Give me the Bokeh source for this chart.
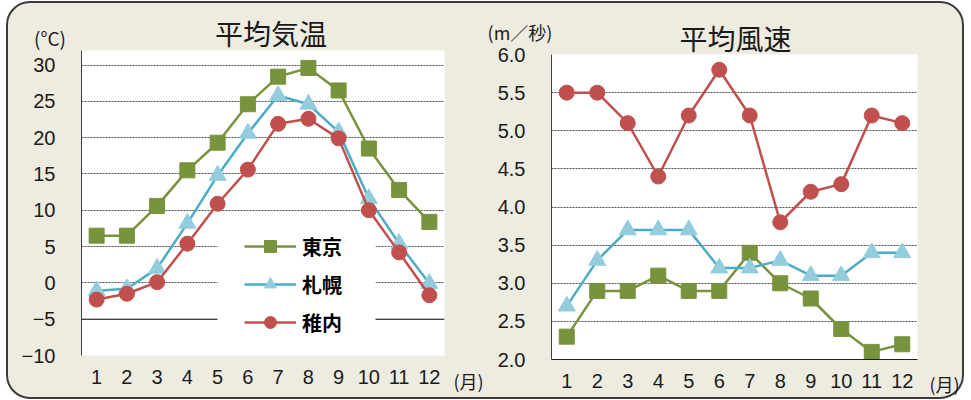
from bokeh.plotting import figure
from bokeh.models import (Range1d, FixedTicker, Span, BoxAnnotation, Legend,
                          LegendItem, NumeralTickFormatter)
from bokeh.layouts import row, column
from bokeh.core.properties import value
from bokeh.embed import file_html
from bokeh.resources import INLINE

# ---------------- data ----------------
months = [1, 2, 3, 4, 5, 6, 7, 8, 9, 10, 11, 12]
cities = ["東京", "札幌", "稚内"]

tokyo_temp = [6.5, 6.5, 10.6, 15.5, 19.3, 24.6, 28.4, 29.6, 26.5, 18.5, 12.8, 8.4]
sapporo_temp = [-1.1, -0.8, 2.0, 8.2, 14.8, 20.6, 25.8, 24.6, 20.8, 11.6, 5.4, -0.1]
wakkanai_temp = [-2.3, -1.5, 0.1, 5.4, 10.9, 15.6, 21.9, 22.6, 19.9, 10.0, 4.2, -1.7]

tokyo_wind = [2.3, 2.9, 2.9, 3.1, 2.9, 2.9, 3.4, 3.0, 2.8, 2.4, 2.1, 2.2]
sapporo_wind = [2.7, 3.3, 3.7, 3.7, 3.7, 3.2, 3.2, 3.3, 3.1, 3.1, 3.4, 3.4]
wakkanai_wind = [5.5, 5.5, 5.1, 4.4, 5.2, 5.8, 5.2, 3.8, 4.2, 4.3, 5.2, 5.1]

temp_ticks = [-10, -5, 0, 5, 10, 15, 20, 25, 30]
temp_tick_labels = {-10: "\u221210", -5: "\u22125"}
wind_ticks = [2.0, 2.5, 3.0, 3.5, 4.0, 4.5, 5.0, 5.5, 6.0]

title_temp = "平均気温"
title_wind = "平均風速"
unit_temp = "(°C)"
unit_wind = "(m／秒)"
unit_month = "(月)"

# ---------------- style ----------------
FONT = "Noto Sans CJK JP"
NUM_FONT = "Liberation Sans"
BG = "#EEECE1"
GREEN = "#77933C"
BLUE = "#4BACC6"
BLUE_FILL = "#93CDDD"
RED = "#C0504D"
TXT = "#1a1a1a"

W, H = 954, 394          # inner size of the rounded panel
X0, Y0 = 8, 3            # page position of the panel's inner corner


def make_fig(width, height, yr, bl, br, bt, bb, y_ticks):
    p = figure(width=width, height=height, x_range=Range1d(0.5, 12.5),
               y_range=yr, output_backend="svg", toolbar_location=None,
               min_border_left=bl, min_border_right=br,
               min_border_top=bt, min_border_bottom=bb)
    p.background_fill_color = "white"
    p.border_fill_color = BG
    p.border_fill_alpha = 0
    p.outline_line_color = None
    p.xgrid.visible = False
    p.ygrid.ticker = FixedTicker(ticks=y_ticks)
    p.ygrid.grid_line_color = "#505050"
    p.ygrid.grid_line_dash = "2 1"
    p.ygrid.grid_line_width = 1

    p.xaxis.ticker = FixedTicker(ticks=months)
    p.yaxis.ticker = FixedTicker(ticks=y_ticks)
    for ax in (p.xaxis[0], p.yaxis[0]):
        ax.major_tick_line_color = None
        ax.minor_tick_line_color = None
        ax.major_tick_out = 0
        ax.major_tick_in = 0
        ax.major_label_text_font = NUM_FONT
        ax.major_label_text_font_size = "20px"
        ax.major_label_text_color = TXT
    p.xaxis.major_label_standoff = 14
    p.yaxis.major_label_standoff = 26
    p.yaxis.axis_line_color = "#404040"
    p.yaxis.axis_line_width = 1
    return p


# ---------------- text layer (titles and units) ----------------
ov = figure(width=W, height=H, x_range=Range1d(X0, X0 + W),
            y_range=Range1d(Y0 + H, Y0), output_backend="svg",
            toolbar_location=None, x_axis_location=None,
            y_axis_location=None, min_border=0)
ov.grid.visible = False
ov.outline_line_color = None
ov.background_fill_alpha = 0
ov.border_fill_alpha = 0

ov.text(x=[270.5, 735], y=[32.5, 37.5], text=[title_temp, title_wind],
        text_font=value(FONT), text_font_size="28px", text_align="center",
        text_baseline="middle", text_color=TXT)
ov.text(x=[49.5], y=[36.5], text=[unit_temp], text_font=value(FONT),
        text_font_size="19px", text_align="center", text_baseline="middle",
        text_color=TXT)
ov.text(x=[519.5], y=[31], text=[unit_wind], text_font=value(FONT),
        text_font_size="18px", text_align="center", text_baseline="middle",
        text_color=TXT)
ov.text(x=[453, 929], y=[380.5, 383.5], text=[unit_month, unit_month],
        text_font=value(FONT), text_font_size="18px", text_align="left",
        text_baseline="middle", text_color=TXT)

# ---------------- left: temperature ----------------
p1 = make_fig(483, 390, Range1d(-10, 32), 73, 47, 47, 38, temp_ticks)
p1.yaxis.major_label_overrides = temp_tick_labels
p1.xaxis.axis_line_color = None
p1.add_layout(Span(location=-5, dimension="width", line_color="#202020",
                   line_width=1, level="underlay"))

t_line = p1.line(months, tokyo_temp, line_color=GREEN, line_width=2.5)
t_mark = p1.scatter(months, tokyo_temp, marker="square", size=15,
                    fill_color=GREEN, line_color=GREEN)
s_line = p1.line(months, sapporo_temp, line_color=BLUE, line_width=2.5)
s_mark = p1.scatter(months, sapporo_temp, marker="triangle", size=17,
                    fill_color=BLUE_FILL, line_color=BLUE_FILL)
w_line = p1.line(months, wakkanai_temp, line_color=RED, line_width=2.5)
w_mark = p1.scatter(months, wakkanai_temp, marker="circle", size=15,
                    fill_color=RED, line_color=RED)

p1.add_layout(BoxAnnotation(left=4.996, right=10.22, top=7.76, bottom=-7.52,
                            fill_color="white", fill_alpha=1,
                            line_color=None))

legend = Legend(items=[LegendItem(label=cities[0], renderers=[t_line, t_mark]),
                       LegendItem(label=cities[1], renderers=[s_line, s_mark]),
                       LegendItem(label=cities[2], renderers=[w_line, w_mark])],
                location=(163, 18))
legend.background_fill_alpha = 0
legend.border_line_color = None
legend.padding = 4
legend.margin = 0
legend.spacing = 8
legend.glyph_width = 52
legend.glyph_height = 30
legend.label_height = 30
legend.label_standoff = 6
legend.label_text_font = FONT
legend.label_text_font_size = "20px"
legend.label_text_font_style = "bold"
legend.label_text_color = "black"
p1.add_layout(legend, "center")

# ---------------- right: wind ----------------
p2 = make_fig(471, 390, Range1d(2.0, 6.0), 60, 45, 47, 38, wind_ticks)
p2.styles = {"margin-top": "4px"}
p2.yaxis.formatter = NumeralTickFormatter(format="0.0")
p2.xaxis.axis_line_color = "#202020"
p2.xaxis.axis_line_width = 1

p2.line(months, tokyo_wind, line_color=GREEN, line_width=2.5)
p2.scatter(months, tokyo_wind, marker="square", size=15,
           fill_color=GREEN, line_color=GREEN)
p2.line(months, sapporo_wind, line_color=BLUE, line_width=2.5)
p2.scatter(months, sapporo_wind, marker="triangle", size=17,
           fill_color=BLUE_FILL, line_color=BLUE_FILL)
p2.line(months, wakkanai_wind, line_color=RED, line_width=2.5)
p2.scatter(months, wakkanai_wind, marker="circle", size=15,
           fill_color=RED, line_color=RED)

charts = row(p1, p2, styles={"margin-top": "-%dpx" % H})

layout = column(row(ov), charts, styles={
    "margin-top": "1px", "margin-left": "6px",
    "box-sizing": "content-box",
    "border": "2px solid #3c3c3c", "border-radius": "24px",
    "background-color": BG})

open("out.html", "w").write(file_html(layout, INLINE))
